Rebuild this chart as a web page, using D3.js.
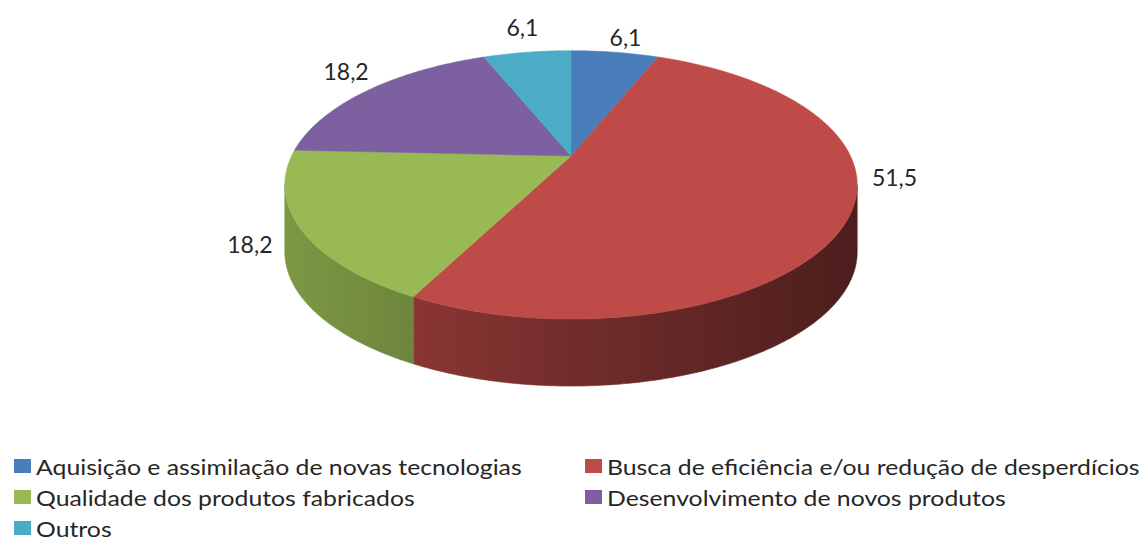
<!DOCTYPE html>
<html>
<head>
<meta charset="utf-8">
<script src="https://cdn.jsdelivr.net/npm/d3@7"></script>
<style>
  body { margin: 0; background: #fff; }
  text { font-family: Lato, "Open Sans", sans-serif; fill: #262626; }
</style>
</head>
<body>
<div id="chart"></div>
<script>
// data
var categories = [
  "Aquisição e assimilação de novas tecnologias",
  "Busca de eficiência e/ou redução de desperdícios",
  "Qualidade dos produtos fabricados",
  "Desenvolvimento de novos produtos",
  "Outros"
];
var values = [6.1, 51.5, 18.2, 18.2, 6.1];
var valueLabels = ["6,1", "51,5", "18,2", "18,2", "6,1"];

var colors = ["#4a7ebb", "#be4b48", "#98b954", "#7d60a0", "#4aacc5"];

var width = 1141, height = 541;

// 3D pie geometry (simple perspective)
var cx = 571, cy = 156, a = 279.5, b = 128, k = 0.215, thick = 67;

function project(phi, r, dy) {
  var x = r * Math.sin(phi), y = -r * Math.cos(phi);
  var s = 1 / (1 - k * y);
  return [cx + a * x * s, cy + b * y * s + (dy || 0)];
}

var svg = d3.select("#chart").append("svg")
  .attr("width", width)
  .attr("height", height);

var defs = svg.append("defs");

var arcs = d3.pie().sort(null).value(function(d) { return d; })(values);

// side wall gradients, lighter on the left, darker on the right
colors.forEach(function(c, i) {
  var g = defs.append("linearGradient")
    .attr("id", "wall" + i)
    .attr("gradientUnits", "userSpaceOnUse")
    .attr("x1", cx - a * 1.03).attr("x2", cx + a * 1.03)
    .attr("y1", 0).attr("y2", 0);
  var base = d3.rgb(c);
  [[0, 0.82], [0.5, 0.6], [1, 0.4]].forEach(function(st) {
    g.append("stop").attr("offset", st[0])
      .attr("stop-color", d3.rgb(base.r * st[1], base.g * st[1], base.b * st[1]));
  });
});

function arcPoints(a0, a1, r, dy) {
  var n = Math.max(2, Math.ceil((a1 - a0) / 0.01));
  var pts = [];
  for (var j = 0; j <= n; j++) pts.push(project(a0 + (a1 - a0) * j / n, r, dy));
  return pts;
}

var line = d3.line();

// front walls (visible part only)
var lo = Math.acos(-k), hi = 2 * Math.PI - lo;
var walls = svg.append("g");
arcs.forEach(function(d, i) {
  var s0 = Math.max(d.startAngle, lo), s1 = Math.min(d.endAngle, hi);
  if (s1 <= s0) return;
  var top = arcPoints(s0, s1, 1, 0);
  var bot = arcPoints(s0, s1, 1, thick).reverse();
  walls.append("path")
    .attr("d", line(top.concat(bot)) + "Z")
    .attr("fill", "url(#wall" + i + ")")
    .attr("stroke", "url(#wall" + i + ")")
    .attr("stroke-width", 0.6);
});

// top faces
var tops = svg.append("g");
arcs.forEach(function(d, i) {
  var pts = [project(0, 0, 0)].concat(arcPoints(d.startAngle, d.endAngle, 1, 0));
  tops.append("path")
    .attr("d", line(pts) + "Z")
    .attr("fill", colors[i])
    .attr("stroke", colors[i])
    .attr("stroke-width", 0.5);
});

// data labels
var labelShift = [[6, -4], [4, -46], [-10, 5], [1, -12], [0, -14]];
svg.append("g").selectAll("text")
  .data(arcs)
  .enter().append("text")
    .attr("x", function(d, i) { return project((d.startAngle + d.endAngle) / 2, 1.13, 0)[0] + labelShift[i][0]; })
    .attr("y", function(d, i) { return project((d.startAngle + d.endAngle) / 2, 1.13, 0)[1] + labelShift[i][1]; })
    .attr("text-anchor", "middle")
    .attr("dominant-baseline", "central")
    .style("font-size", "23px")
    .text(function(d, i) { return valueLabels[i]; });

// legend
var colX = [14, 585], rowY = [466, 497, 528];
var legend = svg.append("g").selectAll("g")
  .data(categories)
  .enter().append("g")
    .attr("transform", function(d, i) {
      return "translate(" + colX[i % 2] + "," + rowY[Math.floor(i / 2)] + ")";
    });
legend.append("rect")
  .attr("x", 0).attr("y", -7)
  .attr("width", 17).attr("height", 14)
  .attr("fill", function(d, i) { return colors[i]; });
legend.append("text")
  .attr("x", 22)
  .attr("y", 0)
  .attr("dominant-baseline", "central")
  .style("font-size", "21px")
  .text(function(d) { return d; })
  .each(function() {
    // the source picture is stretched sideways a little
    var w = this.getComputedTextLength();
    d3.select(this).attr("textLength", w * 1.18).attr("lengthAdjust", "spacingAndGlyphs");
  });
</script>
</body>
</html>
